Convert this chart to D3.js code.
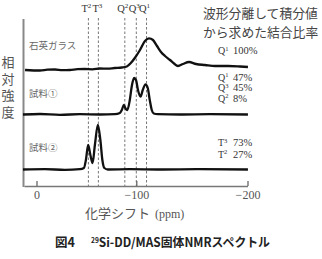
<!DOCTYPE html>
<html>
<head>
<meta charset="utf-8">
<script src="https://cdn.jsdelivr.net/npm/d3@7"></script>
<style>
  html, body { margin: 0; padding: 0; background: #fff; }
  svg { display: block; }
</style>
</head>
<body>
<div id="chart"></div>
<script>
// spectra: [ppm, relative intensity above own baseline]
const quartzGlass = [
  [11, 0], [-3.5, -0.5], [-11, 0.3], [-18.5, 0.5], [-26, -0.2], [-33.5, 0], [-41, 0.8],
  [-48.5, 1], [-56, 0.7], [-63.5, 1.5], [-71, 1.3], [-78.5, 2], [-85.5, 2.5],
  [-90.5, 3.5], [-94.5, 7], [-98.5, 12], [-103.3, 20],
  [-107.8, 29], [-111.4, 31.7], [-115, 30], [-118.6, 24], [-122.2, 18], [-125.8, 14],
  [-130.3, 10], [-133.9, 6.5], [-137.5, 4], [-142, 6], [-147.4, 8], [-153.7, 6],
  [-161.8, 5], [-170.8, 4], [-182.5, 4], [-193.3, 3.5], [-200.4, 3]
];
const sample1 = [
  [13, 0], [-3.5, 0.5], [-23.5, -0.3], [-43.5, 0.3], [-63.5, 0], [-78.5, 0.3],
  [-83.5, 1.5], [-85.5, 4.5], [-87.5, 9.5], [-89.5, 5.5], [-91, 4.5], [-93.5, 14.5],
  [-95.5, 28.5], [-97.8, 36.5], [-99.7, 34.5], [-101.5, 24.5], [-103.8, 17.8],
  [-105.8, 24.5], [-108.3, 30.2], [-110.3, 26.5], [-112.1, 14.5], [-113.9, 4.5],
  [-115.7, 1], [-119.3, 0.3], [-139.3, 0], [-166.3, 0.3], [-200.4, 0]
];
const sample2 = [
  [13, 0], [-8.5, 0.3], [-28.5, -0.3], [-43.5, 0.3], [-47.5, 1.5], [-49.5, 9.5],
  [-51.8, 24.5], [-54, 14.5], [-56.2, 6.5], [-58.5, 24.5], [-61.5, 44.5], [-64, 29.5],
  [-66, 9.5], [-68, 1.5], [-71.5, 0], [-93.5, 0.3], [-121.3, 0], [-157.2, 0.3], [-200.4, 0]
];
const sampleNames = ['石英ガラス', '試料①', '試料②'];

// reference positions of the structural units (dashed lines)
const unitLetters = ['T', 'T', 'Q', 'Q', 'Q'];
const unitSups = ['2', '3', '2', '3', '1'];
const unitPpm = [-52, -62, -88.5, -100, -109.2];

// bonding ratios from peak deconvolution
const ratioLetters = [['Q'], ['Q', 'Q', 'Q'], ['T', 'T']];
const ratioSups = [['1'], ['1', '3', '2'], ['3', '2']];
const ratioValues = [['100%'], ['47%', '45%', '8%'], ['73%', '27%']];

const xTicks = [0, -100, -200];

const width = 322, height = 259;
const serif = '"Liberation Serif", "DejaVu Serif", serif';
const jp = '"Noto Sans CJK JP", sans-serif';

const svg = d3.select('#chart').append('svg')
  .attr('width', width)
  .attr('height', height);

// ppm axis of the scan is not quite uniform, keep the drawn tick spacing
const x = d3.scaleLinear()
  .domain([12, 0, -100, -200])
  .range([24, 36.5, 136.3, 247.5]);

const y = d3.scaleLinear()
  .domain([0, 170])
  .range([186, 16]);

const baselines = [116, 71.5, 16.5];
const spectra = [quartzGlass, sample1, sample2];

// dashed reference lines
svg.selectAll('.ref')
  .data(unitPpm)
  .enter().append('line')
  .attr('class', 'ref')
  .attr('x1', d => x(d)).attr('x2', d => x(d))
  .attr('y1', 18).attr('y2', 186)
  .attr('stroke', '#666')
  .attr('stroke-width', 0.9)
  .attr('stroke-dasharray', '2.5,2');

const unitText = svg.selectAll('.unit')
  .data(unitPpm)
  .enter().append('text')
  .attr('class', 'unit')
  .attr('x', (d, i) => x(d) + (i === 1 ? -1 : -2))
  .attr('y', 12)
  .attr('text-anchor', 'middle')
  .attr('font-family', serif)
  .attr('font-size', 10.5)
  .attr('fill', '#333');
unitText.append('tspan').text((d, i) => unitLetters[i]);
unitText.append('tspan')
  .attr('font-size', 7)
  .attr('dy', -4)
  .text((d, i) => unitSups[i]);

// axes
svg.append('line')
  .attr('x1', 23.5).attr('x2', 23.5)
  .attr('y1', 19).attr('y2', 187)
  .attr('stroke', '#888')
  .attr('stroke-width', 2);

const xAxis = svg.append('g')
  .attr('transform', 'translate(0,186)')
  .call(d3.axisBottom(x)
    .tickValues(xTicks)
    .tickSizeInner(-5)
    .tickSizeOuter(0)
    .tickPadding(4)
    .tickFormat(d => d === 0 ? '0' : '\u2212' + Math.abs(d)));
xAxis.select('.domain').attr('stroke', '#777').attr('stroke-width', 1.3);
xAxis.selectAll('.tick line').attr('stroke', '#666').attr('stroke-width', 1.3);
xAxis.selectAll('.tick text')
  .attr('font-family', serif)
  .attr('font-size', 12)
  .attr('fill', '#555');

// spectra
const line = d3.line()
  .x(d => x(d[0]))
  .curve(d3.curveMonotoneX);

spectra.forEach((data, i) => {
  svg.append('path')
    .datum(data)
    .attr('fill', 'none')
    .attr('stroke', '#111')
    .attr('stroke-width', 2.3)
    .attr('stroke-linejoin', 'round')
    .attr('d', line.y(d => y(baselines[i] + d[1])));
});

// sample names
const nameY = [49, 97, 151];
svg.selectAll('.name')
  .data(sampleNames)
  .enter().append('text')
  .attr('x', 29)
  .attr('y', (d, i) => nameY[i])
  .attr('font-family', jp)
  .attr('font-size', 9.5)
  .attr('fill', '#666')
  .text(d => d);

// y title, written vertically
svg.append('text')
  .attr('x', 8)
  .attr('y', 56)
  .style('writing-mode', 'vertical-rl')
  .style('letter-spacing', '3.5px')
  .attr('font-family', jp)
  .attr('font-size', 13)
  .attr('fill', '#555')
  .text('相対強度');

// ratio legend
svg.append('text')
  .attr('x', 203).attr('y', 18)
  .attr('font-family', jp).attr('font-size', 12.8).attr('fill', '#444')
  .text('波形分離して積分値');
svg.append('text')
  .attr('x', 203).attr('y', 37)
  .attr('font-family', jp).attr('font-size', 12.8).attr('fill', '#444')
  .text('から求めた結合比率');

const ratioTop = [54, 80.5, 146];
const ratioGap = [10, 10.5, 11.5];
ratioValues.forEach((vals, g) => {
  vals.forEach((v, k) => {
    const ty = ratioTop[g] + k * ratioGap[g];
    const t = svg.append('text')
      .attr('x', 218).attr('y', ty)
      .attr('font-family', serif).attr('font-size', 10).attr('fill', '#333');
    t.append('tspan').text(ratioLetters[g][k]);
    t.append('tspan').attr('font-size', 6.5).attr('dy', -3.5).text(ratioSups[g][k]);
    svg.append('text')
      .attr('x', 233).attr('y', ty)
      .attr('font-family', serif).attr('font-size', 10.5).attr('fill', '#333')
      .text(v);
  });
});

// x title
const xTitle = svg.append('text')
  .attr('x', 85).attr('y', 218)
  .attr('fill', '#555');
xTitle.append('tspan').attr('font-family', jp).attr('font-size', 13).text('化学シフト');
xTitle.append('tspan').attr('font-family', serif).attr('font-size', 12).attr('dx', 5).text('(ppm)');

// caption
svg.append('text')
  .attr('x', 55).attr('y', 247)
  .attr('font-family', jp).attr('font-weight', 'bold').attr('font-size', 12.5).attr('fill', '#222')
  .text('図4');
const cap = svg.append('text')
  .attr('x', 91).attr('y', 247)
  .attr('font-family', jp).attr('font-weight', 'bold').attr('font-size', 12.5).attr('fill', '#222')
  .attr('textLength', 179).attr('lengthAdjust', 'spacingAndGlyphs');
cap.append('tspan').attr('font-size', 7).attr('dy', -4).text('29');
cap.append('tspan').attr('dy', 4).text('Si-DD/MAS固体NMRスペクトル');
</script>
</body>
</html>
